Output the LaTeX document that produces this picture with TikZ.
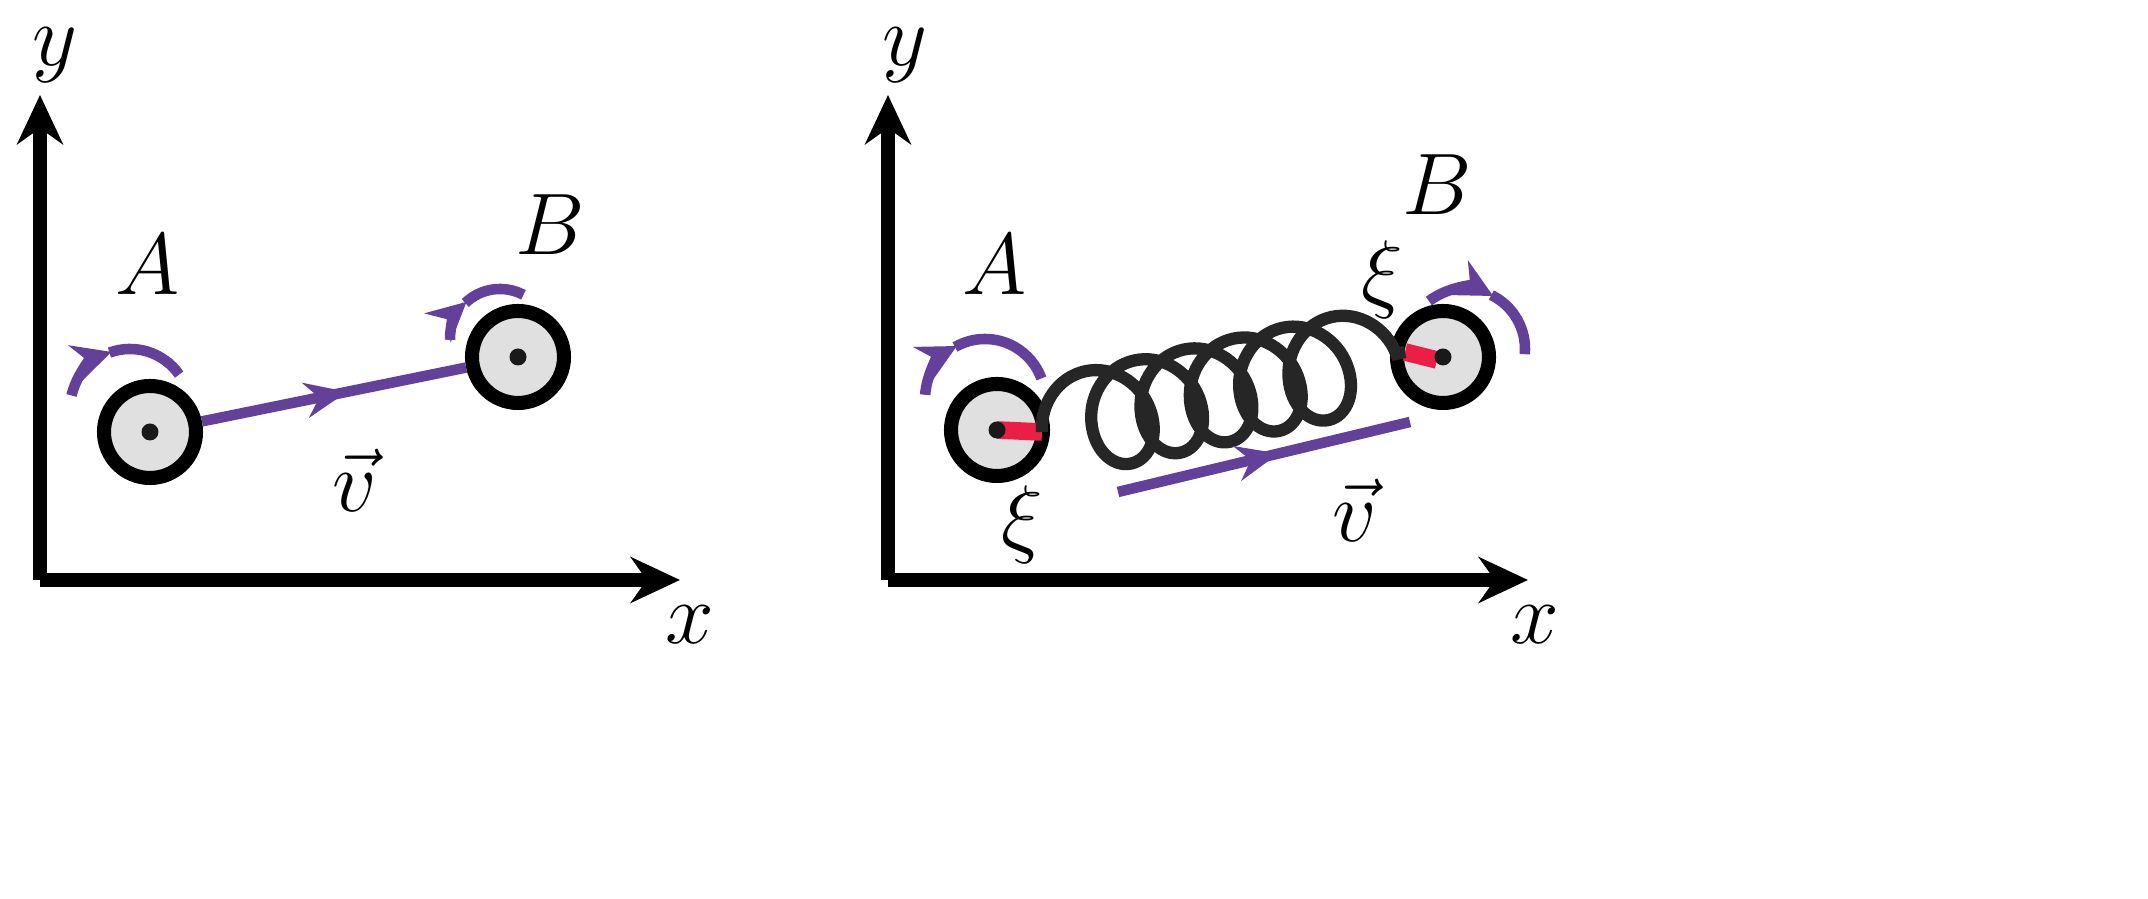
\documentclass[tikz,border=0pt]{standalone}
\usetikzlibrary{arrows.meta, decorations.markings, decorations.pathmorphing, calc}
\definecolor{vcol}{RGB}{99,64,153}
\definecolor{rodcol}{RGB}{235,30,70}
\begin{document}
\begin{tikzpicture}[x=1mm,y=1mm,
            axis/.style={line width=4pt, -{Stealth[length=14pt,width=13pt]}},
            wheel/.style={circle, draw=black, line width=4pt, fill=black!12, minimum size=9.2mm, inner sep=0pt},
            hub/.style={circle, fill=black!90, minimum size=1.7mm, inner sep=0pt},
            vec/.style={draw=vcol, line width=3pt, decoration={markings, mark=at position 0.55 with {\arrow{Stealth[length=12pt,width=10pt]}}}, postaction={decorate}},
            spin/.style={draw=vcol, line width=3pt},
            spintip/.style={spin, -{Stealth[length=11pt,width=11pt]}},
            rod/.style={draw=rodcol, line width=5pt},
            lbl/.style={font=\fontsize{24}{28}\selectfont},
        ]
            \useasboundingbox (0,0) rectangle (214.8,89.9);
            % left panel: axes
            \coordinate (O1) at (4,31.9);
            \draw[axis] (O1) -- (4,80.4);
            \draw[axis] (O1) -- (68,31.9);
            \node[lbl] (y1) at (5.5,84.4) {$y$};
            \node[lbl] (x1) at (69,27.4) {$x$};

            % left panel: wheels
            \node[wheel] (A1) at (15,46.7) {};
            \node[hub] at (A1) {};
            \node[wheel] (B1) at (51.8,54.2) {};
            \node[hub] at (B1) {};
            \node[lbl] (lA1) at (14.8,63.4) {$A$};
            \node[lbl] (lB1) at (55,67.4) {$B$};
            \path[vec] (A1) -- (B1);
            \node[lbl] (v1) at (35.5,41.9) {$\vec{v}$};

            % left panel: spin arrows
            \coordinate (cA1) at (13,49);
            \draw[spintip] (cA1) ++(167:6) arc (167:108:6);
            \draw[spin] (cA1) ++(110:6) arc (110:35:6);
            \coordinate (cB1) at (50,56);
            \draw[spintip] (cB1) ++(181:5) arc (181:132:5);
            \draw[spin] (cB1) ++(134:5) arc (134:62:5);

            % right panel: axes
            \coordinate (O2) at (88.8,31.9);
            \draw[axis] (O2) -- (88.8,80.4);
            \draw[axis] (O2) -- (152.8,31.9);
            \node[lbl] (y2) at (90.5,84.4) {$y$};
            \node[lbl] (x2) at (153.5,27.4) {$x$};

            % right panel: wheels and spring
            \node[wheel] (A2) at (99.7,46.9) {};
            \node[wheel] (B2) at (144.3,54.2) {};
            \coordinate (sA) at (104.2,46.7);
            \coordinate (sB) at (140.5,54.7);
            \draw[rod] (A2.center) -- (sA);
            \draw[rod] (sB) -- ($(B2.center)+(-0.6,-0.3)$);
            \node[hub] at (A2) {};
            \node[hub] at (B2) {};
            \draw[line width=3.5pt, black!85, decorate,
                  decoration={coil, segment length=5.05mm, amplitude=5mm, aspect=0.85}] (sA) -- (sB);
            \node[lbl] (lA2) at (99.5,63.4) {$A$};
            \node[lbl] (lB2) at (143.7,71.4) {$B$};
            \node[lbl] (xi1) at (138.2,61.9) {$\xi$};
            \node[lbl] (xi2) at (102.2,37.4) {$\xi$};

            % right panel: velocity and spin arrows
            \coordinate (v2s) at (111.8,40.7);
            \coordinate (v2e) at (141,47.7);
            \path[vec] (v2s) -- (v2e);
            \node[lbl] (v2) at (135.5,38.9) {$\vec{v}$};
            \coordinate (cA2) at (98.5,50);
            \draw[spintip] (cA2) ++(176:6) arc (176:118:6);
            \draw[spin] (cA2) ++(120:6) arc (120:20:6);
            \coordinate (cB2) at (146.5,55);
            \draw[spintip] (cB2) ++(127:6) arc (127:62:6);
            \draw[spin] (cB2) ++(64:6) arc (64:-5:6);
        \end{tikzpicture}
\end{document}
